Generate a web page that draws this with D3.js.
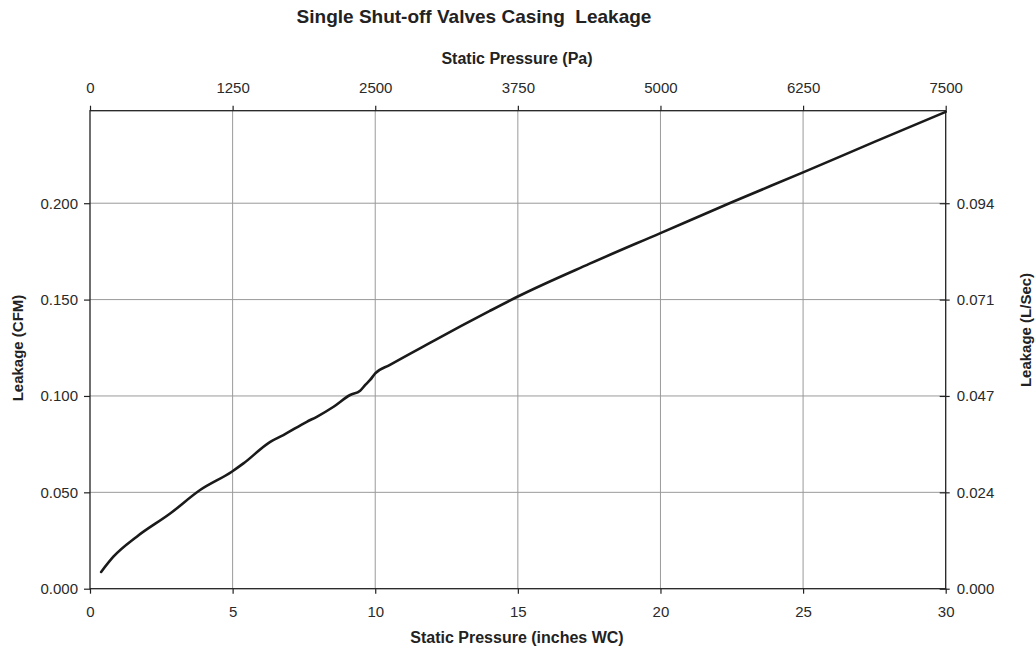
<!DOCTYPE html>
<html>
<head>
<meta charset="utf-8">
<script src="https://cdn.jsdelivr.net/npm/d3@7"></script>
<style>
  body { margin: 0; background: #fff; }
  svg { display: block; font-family: "Liberation Sans", Arial, sans-serif; }
</style>
</head>
<body>
<div id="chart"></div>
<script>
// static pressure (inches WC) and leakage (CFM)
var pressureIn = [0.39, 0.82, 1.64, 2.81, 3.86, 4.97, 5.38, 6.32, 6.78, 7.6, 7.95, 8.54,
                  9.12, 9.47, 9.65, 9.82, 10.0, 10.5, 12, 13, 14, 15, 17.5,
                  20, 22.5, 25, 27.5, 30];
var leakageCfm = [0.0087, 0.0166, 0.027, 0.039, 0.0512, 0.0607, 0.065, 0.0762, 0.0797, 0.0866,
                  0.0892, 0.0944, 0.1005, 0.1027, 0.1057, 0.1083, 0.1117, 0.1160, 0.1282,
                  0.1362, 0.1440, 0.1516, 0.1685, 0.1845, 0.2005, 0.2160, 0.2318, 0.2474];

var xTicksIn = [0, 5, 10, 15, 20, 25, 30];
var xTicksPa = [0, 1250, 2500, 3750, 5000, 6250, 7500];
var yTicksCfm = [0, 0.05, 0.1, 0.15, 0.2];
var yTicksLs = ["0.000", "0.024", "0.047", "0.071", "0.094"];

var width = 1036,
    height = 652;
var margin = {top: 110.7, right: 90.3, bottom: 63.3, left: 90};
var w = width - margin.left - margin.right,
    h = height - margin.top - margin.bottom;

var svg = d3.select("#chart").append("svg")
    .attr("width", width)
    .attr("height", height);

var x = d3.scaleLinear().domain([0, 30]).range([0, w]);
var xPa = d3.scaleLinear().domain([0, 7500]).range([0, w]);
var y = d3.scaleLinear().domain([0, 0.248]).range([h, 0]);

var g = svg.append("g")
    .attr("transform", "translate(" + margin.left + "," + margin.top + ")");

// grid
g.append("g").selectAll("line")
    .data(xTicksIn.slice(1, -1))
    .enter().append("line")
    .attr("x1", function (d) { return x(d); })
    .attr("x2", function (d) { return x(d); })
    .attr("y1", 0).attr("y2", h)
    .attr("stroke", "#9a9a9a").attr("stroke-width", 1);

g.append("g").selectAll("line")
    .data(yTicksCfm.slice(1))
    .enter().append("line")
    .attr("x1", 0).attr("x2", w)
    .attr("y1", function (d) { return y(d); })
    .attr("y2", function (d) { return y(d); })
    .attr("stroke", "#9a9a9a").attr("stroke-width", 1);

// axes
function styleAxis(sel) {
    sel.select(".domain").remove();
    sel.selectAll(".tick line").attr("stroke", "#222").attr("stroke-width", 1.2);
    sel.selectAll(".tick text")
        .attr("fill", "#2a2a2a")
        .style("font-size", "15px")
        .style("font-family", "'Liberation Sans', Arial, sans-serif");
}

g.append("g")
    .attr("transform", "translate(0," + h + ")")
    .call(d3.axisBottom(x).tickValues(xTicksIn).tickSize(5).tickPadding(13))
    .call(styleAxis);

g.append("g")
    .call(d3.axisTop(xPa).tickValues(xTicksPa).tickSize(5).tickPadding(13).tickFormat(d3.format("d")))
    .call(styleAxis);

g.append("g")
    .call(d3.axisLeft(y).tickValues(yTicksCfm).tickSize(6).tickPadding(6).tickFormat(d3.format(".3f")))
    .call(styleAxis);

var right = g.append("g")
    .attr("transform", "translate(" + w + ",0)")
    .call(d3.axisRight(y).tickValues(yTicksCfm).tickSize(4).tickPadding(7)
        .tickFormat(function (d, i) { return yTicksLs[i]; }))
    .call(styleAxis);
right.selectAll(".tick line").attr("x1", -6);

// frame
g.append("rect")
    .attr("width", w).attr("height", h)
    .attr("fill", "none")
    .attr("stroke", "#222")
    .attr("stroke-width", 1.3);

// curve
var points = pressureIn.map(function (p, i) { return [p, leakageCfm[i]]; });
var line = d3.line()
    .x(function (d) { return x(d[0]); })
    .y(function (d) { return y(d[1]); })
    .curve(d3.curveMonotoneX);

g.append("path")
    .datum(points)
    .attr("d", line)
    .attr("fill", "none")
    .attr("stroke", "#1a1a1a")
    .attr("stroke-width", 2.6)
    .attr("stroke-linecap", "round");

// titles
svg.append("text")
    .attr("x", 474).attr("y", 23)
    .attr("text-anchor", "middle")
    .style("font-family", "'Liberation Sans Narrow', 'Arial Narrow', 'Liberation Sans', sans-serif")
    .style("font-size", "19px")
    .style("font-weight", "bold")
    .attr("fill", "#222")
    .attr("xml:space", "preserve")
    .text("Single Shut-off Valves Casing  Leakage");

svg.append("text")
    .attr("x", 517).attr("y", 64)
    .attr("text-anchor", "middle")
    .style("font-family", "'Liberation Sans Narrow', 'Arial Narrow', 'Liberation Sans', sans-serif")
    .style("font-size", "16px")
    .style("font-weight", "bold")
    .attr("fill", "#222")
    .text("Static Pressure (Pa)");

svg.append("text")
    .attr("x", 517).attr("y", 643)
    .attr("text-anchor", "middle")
    .style("font-size", "16px")
    .style("font-weight", "bold")
    .attr("fill", "#222")
    .text("Static Pressure (inches WC)");

svg.append("text")
    .attr("transform", "translate(23,348) rotate(-90)")
    .attr("text-anchor", "middle")
    .style("font-size", "15px")
    .style("font-weight", "bold")
    .attr("fill", "#222")
    .text("Leakage (CFM)");

svg.append("text")
    .attr("transform", "translate(1031,330) rotate(-90)")
    .attr("text-anchor", "middle")
    .style("font-size", "15px")
    .style("font-weight", "bold")
    .attr("fill", "#222")
    .text("Leakage (L/Sec)");
</script>
</body>
</html>
